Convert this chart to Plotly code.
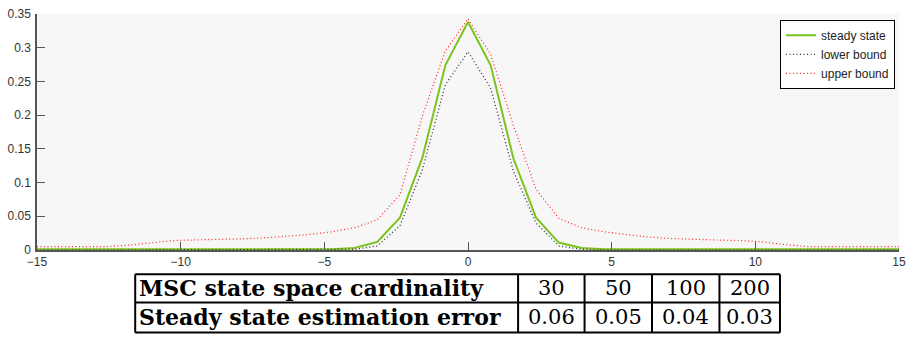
import numpy as np
import plotly.graph_objects as go

# ---------------- data ----------------
x_vals = list(np.linspace(-15, 15, 39))

steady_state = [0.001, 0.001, 0.001, 0.001, 0.001, 0.001, 0.001, 0.001, 0.001, 0.001,
                0.001, 0.001, 0.001, 0.001, 0.003, 0.012, 0.048, 0.138, 0.274, 0.338,
                0.274, 0.136, 0.048, 0.011, 0.003, 0.001, 0.001, 0.001, 0.001, 0.001,
                0.001, 0.001, 0.001, 0.001, 0.001, 0.001, 0.001, 0.001, 0.001]

lower_bound = [0.0, 0.0, 0.0, 0.0, 0.0, 0.0, 0.0, 0.0, 0.0, 0.0,
               0.0, 0.0, 0.0, 0.0, 0.001, 0.006, 0.036, 0.12, 0.245, 0.294,
               0.24, 0.117, 0.04, 0.006, 0.001, 0.0, 0.0, 0.0, 0.0, 0.0,
               0.0, 0.0, 0.0, 0.0, 0.0, 0.0, 0.0, 0.0, 0.0]

upper_bound = [0.005, 0.005, 0.005, 0.005, 0.007, 0.010, 0.014, 0.015, 0.0155, 0.0165,
               0.018, 0.020, 0.023, 0.027, 0.033, 0.045, 0.082, 0.200, 0.295, 0.343,
               0.290, 0.185, 0.090, 0.047, 0.033, 0.027, 0.023, 0.019, 0.017, 0.0155,
               0.0148, 0.014, 0.012, 0.008, 0.005, 0.005, 0.005, 0.005, 0.005]

x_ticks = [-15, -10, -5, 0, 5, 10, 15]
y_ticks = [0, 0.05, 0.1, 0.15, 0.2, 0.25, 0.3, 0.35]
y_ticktext = ["0", "0.05", "0.1", "0.15", "0.2", "0.25", "0.3", "0.35"]

row_labels = ["MSC state space cardinality", "Steady state estimation error"]
cardinality = ["30", "50", "100", "200"]
est_error = ["0.06", "0.05", "0.04", "0.03"]

# ---------------- layout geometry (pixels) ----------------
W, H = 913, 338
ML, MR, MT, MB = 33, 11, 7, 88
PW, PH = W - ML - MR, H - MT - MB


def px_x(p):
    return (p - ML) / PW


def px_y(p):
    return (H - MB - p) / PH


fig = go.Figure()
fig.add_trace(go.Scatter(x=x_vals, y=steady_state, mode="lines", name="steady state",
                         line=dict(color="#7cc41c", width=2)))
fig.add_trace(go.Scatter(x=x_vals, y=lower_bound, mode="lines", name="lower bound",
                         line=dict(color="#333333", width=1.3, dash="1px,2.5px")))
fig.add_trace(go.Scatter(x=x_vals, y=upper_bound, mode="lines", name="upper bound",
                         line=dict(color="#ff2020", width=1.2, dash="1px,2.5px")))

axis_common = dict(showline=True, linecolor="#555555", linewidth=1.5, ticks="inside",
                   ticklen=8, tickcolor="#555555", tickwidth=1.2, showgrid=False,
                   zeroline=False, mirror=False,
                   tickfont=dict(family="Arial, Liberation Sans, sans-serif", size=12,
                                 color="#333333"))

fig.update_layout(
    width=W, height=H,
    margin=dict(l=ML, r=MR, t=MT, b=MB),
    paper_bgcolor="white", plot_bgcolor="#f7f7f7",
    xaxis=dict(range=[-15, 15], tickvals=x_ticks, ticklabelstandoff=0, **axis_common),
    yaxis=dict(range=[0, 0.35], tickvals=y_ticks, ticktext=y_ticktext,
               ticklabelstandoff=2, **axis_common),
    legend=dict(x=px_x(898), y=px_y(13), xanchor="right", yanchor="top",
                bgcolor="white", bordercolor="black", borderwidth=1,
                font=dict(family="Arial, Liberation Sans, sans-serif", size=12, color="#222222"),
                tracegroupgap=0, itemwidth=30),
    showlegend=True,
)

# ---------------- table below the plot ----------------
col_edges = [132, 518, 585, 653, 721, 782]
row_edges = [275, 304, 335]
shapes = []
for cx in col_edges:
    shapes.append(dict(type="line", xref="paper", yref="paper",
                       x0=px_x(cx), x1=px_x(cx), y0=px_y(row_edges[0]), y1=px_y(row_edges[-1]),
                       line=dict(color="black", width=2)))
for ry in row_edges:
    shapes.append(dict(type="line", xref="paper", yref="paper",
                       x0=px_x(col_edges[0]), x1=px_x(col_edges[-1]), y0=px_y(ry), y1=px_y(ry),
                       line=dict(color="black", width=2)))

annotations = []
table_rows = [cardinality, est_error]
for r, label in enumerate(row_labels):
    yc = (row_edges[r] + row_edges[r + 1]) / 2
    annotations.append(dict(text="<b>" + label + "</b>", xref="paper", yref="paper",
                            x=px_x(col_edges[0] + 2), y=px_y(yc), xanchor="left",
                            yanchor="middle", showarrow=False,
                            font=dict(family="DejaVu Serif, serif", size=22, color="black")))
    for c, val in enumerate(table_rows[r]):
        xc = (col_edges[c + 1] + col_edges[c + 2]) / 2
        annotations.append(dict(text=val, xref="paper", yref="paper",
                                x=px_x(xc), y=px_y(yc), xanchor="center", yanchor="middle",
                                showarrow=False,
                                font=dict(family="DejaVu Serif, serif", size=21, color="black")))

fig.update_layout(shapes=shapes, annotations=annotations)
fig.write_html("out.html")
